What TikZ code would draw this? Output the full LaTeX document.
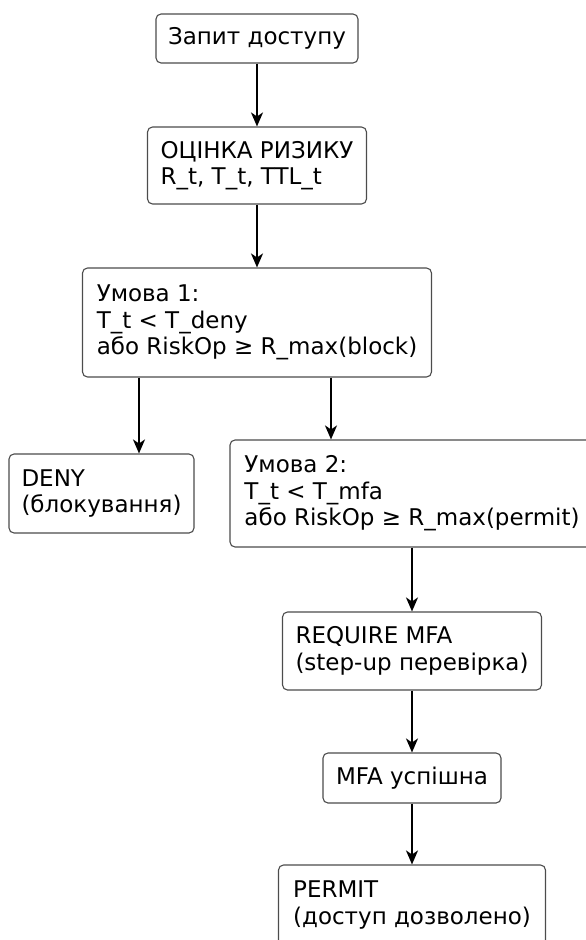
\documentclass[tikz,border=0pt]{standalone}
\usepackage{fontspec}
\setmainfont{DejaVu Sans}
\usetikzlibrary{arrows.meta}

\begin{document}
\begin{tikzpicture}[x=1pt, y=-1pt,
    box/.style={draw=black!70, line width=1.1pt, rounded corners=5pt, align=left,
        inner sep=0pt, font=\fontsize{23}{26.5}\selectfont},
    arr/.style={-{Stealth[length=14pt, width=12pt, inset=4pt]}, line width=1.7pt}]
                \useasboundingbox (0,0) rectangle (586,940);
                \clip (0,0) rectangle (586,940);
                \node[box, minimum width=202, minimum height=49] (req) at (257,38.5) {Запит доступу};
                \node[box, minimum width=219, minimum height=77] (risk) at (257,165.5) {ОЦІНКА РИЗИКУ\\R\_t, T\_t, TTL\_t};
                \node[box, minimum width=349, minimum height=109] (u1) at (257,322.5) {Умова 1:\\T\_t < T\_deny\\або RiskOp ≥ R\_max(block)};
                \node[box, minimum width=185, minimum height=79] (deny) at (101.5,493.5) {DENY\\(блокування)};
                \node[box, minimum width=364, minimum height=107] (u2) at (412,493.5) {Умова 2:\\T\_t < T\_mfa\\або RiskOp ≥ R\_max(permit)};
                \node[box, minimum width=259, minimum height=78] (mfa) at (412,651) {REQUIRE MFA\\(step-up перевірка)};
                \node[box, minimum width=178, minimum height=50] (ok) at (412,778) {MFA успішна};
                \node[box, minimum width=267, minimum height=80] (permit) at (412,905) {PERMIT\\(доступ дозволено)};
                \coordinate (dl) at (139,0);
                \coordinate (dr) at (331,0);
                \draw[arr] (req) -- (risk);
                \draw[arr] (risk) -- (u1);
                \draw[arr] (u1.south -| dl) -- (deny.north -| dl);
                \draw[arr] (u1.south -| dr) -- (u2.north -| dr);
                \draw[arr] (u2) -- (mfa);
                \draw[arr] (mfa) -- (ok);
                \draw[arr] (ok) -- (permit);
            \end{tikzpicture}
\end{document}
